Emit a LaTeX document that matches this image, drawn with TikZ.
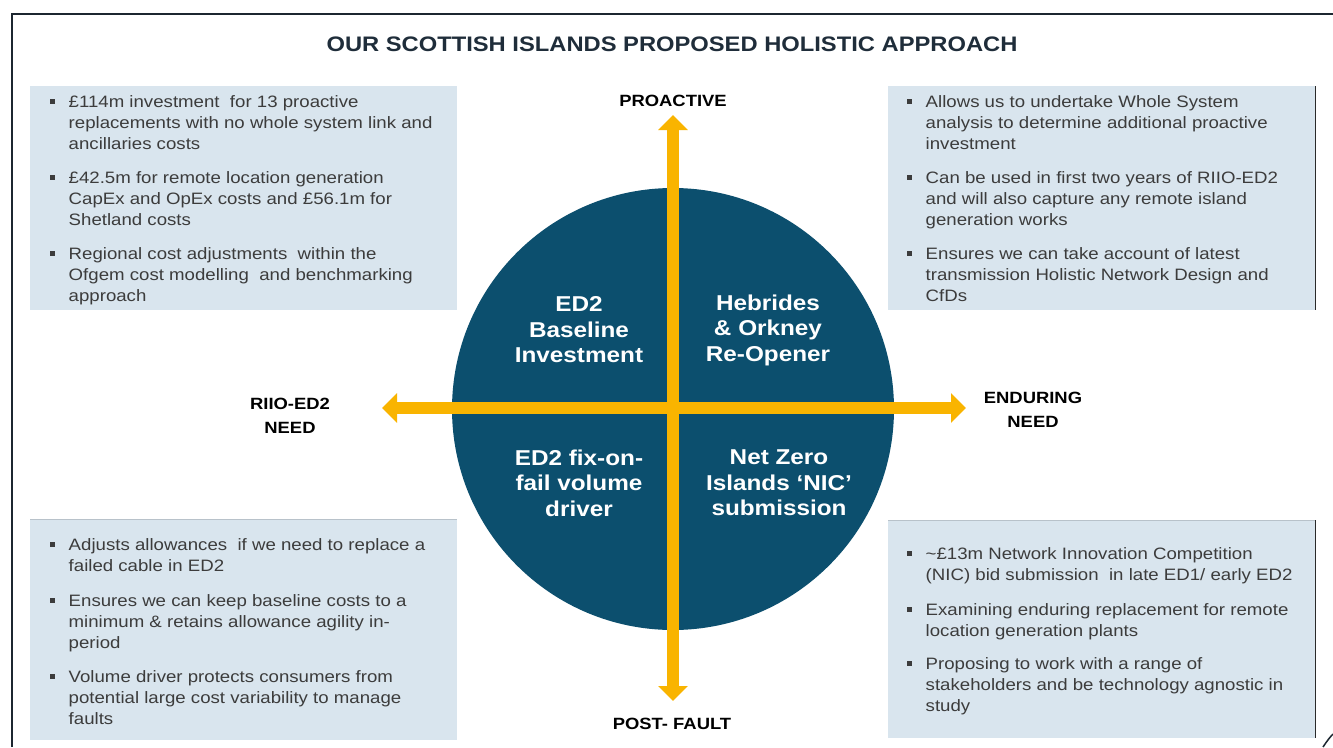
\documentclass[tikz,border=0pt]{standalone}
\usepackage{fontspec}
\setmainfont{Liberation Sans}[FakeStretch=1.13]
\usetikzlibrary{arrows.meta}
\definecolor{boxfill}{HTML}{D9E5EE}
\definecolor{circfill}{HTML}{0C4F6E}
\definecolor{axiscol}{HTML}{F9B400}
\definecolor{bodytext}{HTML}{3C3C3C}
\definecolor{titlecol}{HTML}{1F2D3A}
\definecolor{framecol}{HTML}{1C2630}
\definecolor{edgecol}{HTML}{2A2A2A}
\definecolor{topedge}{HTML}{B8C2CA}
\newcommand\bsq{\textcolor{bodytext}{\rule[3.5pt]{5pt}{5pt}}}
\tikzset{
  panel/.style={fill=boxfill, draw=none, anchor=north west, inner sep=0pt},
  bullets/.style={anchor=base west, inner sep=0pt, text=bodytext, font=\fontsize{16.5}{21}\selectfont},
  quadtext/.style={align=center, text=white, inner sep=0pt, font=\bfseries\fontsize{21.5}{25.5}\selectfont},
  axlabel/.style={align=center, inner sep=0pt, text=black, font=\bfseries\fontsize{16.3}{23.5}\selectfont},
  axarrow/.style={draw=axiscol, line width=12pt,
    {Triangle[width=29pt,length=15pt]}-{Triangle[width=29pt,length=15pt]}}
}
\begin{document}
\begin{tikzpicture}[x=1pt,y=-1pt]
\useasboundingbox (0,0) rectangle (1333,747);
\fill[white] (0,0) rectangle (1333,747);
% frame
\draw[framecol, line width=2.6pt] (12,747) -- (12,14) -- (1333,14);
\draw[framecol, line width=1.5pt] (1323,747) .. controls (1327,741) and (1330,737) .. (1333,734);
% title
\node[text=titlecol, font=\bfseries\fontsize{21}{25}\selectfont] (title) at (672,44) {OUR SCOTTISH ISLANDS PROPOSED HOLISTIC APPROACH};
% panels
\node[panel, minimum width=427pt, minimum height=224pt] (tlbox) at (30,86) {};
\node[panel, minimum width=427pt, minimum height=224pt] (trbox) at (888,86) {};
\node[panel, minimum width=427pt, minimum height=221pt] (blbox) at (30,519) {};
\node[panel, minimum width=427pt, minimum height=218pt] (brbox) at (888,520) {};
\draw[edgecol, line width=1.4pt] (trbox.north east) -- (trbox.south east);
\draw[edgecol, line width=1.4pt] (brbox.north east) -- (brbox.south east);
\draw[topedge, line width=1pt] (blbox.north west) -- (blbox.north east);
\draw[topedge, line width=1pt] (brbox.north west) -- (brbox.north east);
% circle
\fill[circfill] (673,409) circle (221);
\node[inner sep=0pt] (hub) at (673,409) {};
% axes
\coordinate (up) at (673,115);
\coordinate (down) at (673,701);
\coordinate (left) at (382,408);
\coordinate (right) at (966,408);
\draw[axarrow] (down) -- (up);
\draw[axarrow] (left) -- (right);
% quadrant texts
\node[quadtext] (q1) at (579,330) {ED2\\Baseline\\Investment};
\node[quadtext] (q2) at (768,330) {Hebrides\\\& Orkney\\Re-Opener};
\node[quadtext] (q3) at (579,483) {ED2 fix-on-\\fail volume\\driver};
\node[quadtext] (q4) at (779,483) {Net Zero\\Islands ‘NIC’\\submission};
% axis labels
\node[axlabel] (proactive) at (673,101) {PROACTIVE};
\node[axlabel] (riio) at (290,416) {RIIO-ED2\\NEED};
\node[axlabel] (enduring) at (1033,410) {ENDURING\\NEED};
\node[axlabel] (postfault) at (672,724) {POST- FAULT};
% bullet texts
\node[bullets] (tltext) at (50,107) {\begin{tabular}[t]{@{}l@{\hspace{13.5pt}}l@{}}
\bsq & £114m investment\ \ for 13 proactive\\
 & replacements with no whole system link and\\
 & ancillaries costs\\[13pt]
\bsq & £42.5m for remote location generation\\
 & CapEx and OpEx costs and £56.1m for\\
 & Shetland costs\\[13pt]
\bsq & Regional cost adjustments\ \ within the\\
 & Ofgem cost modelling\ \ and benchmarking\\
 & approach
\end{tabular}};
\node[bullets] (trtext) at (907,107) {\begin{tabular}[t]{@{}l@{\hspace{13.5pt}}l@{}}
\bsq & Allows us to undertake Whole System\\
 & analysis to determine additional proactive\\
 & investment\\[13pt]
\bsq & Can be used in first two years of RIIO-ED2\\
 & and will also capture any remote island\\
 & generation works\\[13pt]
\bsq & Ensures we can take account of latest\\
 & transmission Holistic Network Design and\\
 & CfDs
\end{tabular}};
\node[bullets] (bltext) at (50,550) {\begin{tabular}[t]{@{}l@{\hspace{13.5pt}}l@{}}
\bsq & Adjusts allowances\ \ if we need to replace a\\
 & failed cable in ED2\\[14pt]
\bsq & Ensures we can keep baseline costs to a\\
 & minimum \& retains allowance agility in-\\
 & period\\[13pt]
\bsq & Volume driver protects consumers from\\
 & potential large cost variability to manage\\
 & faults
\end{tabular}};
\node[bullets] (brtext) at (907,559) {\begin{tabular}[t]{@{}l@{\hspace{13.5pt}}l@{}}
\bsq & \textasciitilde£13m Network Innovation Competition\\
 & (NIC) bid submission\ \ in late ED1/ early ED2\\[14pt]
\bsq & Examining enduring replacement for remote\\
 & location generation plants\\[12pt]
\bsq & Proposing to work with a range of\\
 & stakeholders and be technology agnostic in\\
 & study
\end{tabular}};
\end{tikzpicture}
\end{document}
